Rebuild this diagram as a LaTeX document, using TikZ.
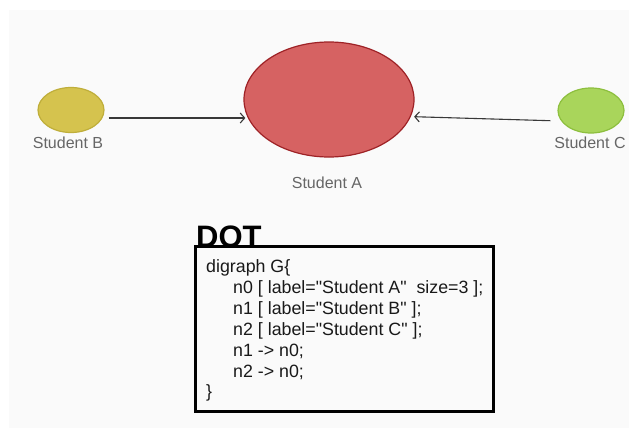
\documentclass[tikz,border=0pt]{standalone}
\usepackage{fontspec}
\setmainfont{Liberation Sans}
\newfontfamily\codefont{Liberation Sans}[Ligatures=ResetAll]
\usetikzlibrary{arrows.meta,shapes.geometric}
\definecolor{panel}{HTML}{FAFAFA}
\definecolor{labelgray}{HTML}{666666}
\definecolor{edgegray}{HTML}{383838}
\definecolor{afill}{HTML}{D66262}
\definecolor{aline}{HTML}{9E2226}
\definecolor{bfill}{HTML}{D5C34E}
\definecolor{bline}{HTML}{BFAE3A}
\definecolor{cfill}{HTML}{A9D55B}
\definecolor{cline}{HTML}{8DBF3E}
\tikzset{
  student/.style={ellipse, inner sep=0pt, line width=1.2pt},
  studlabel/.style={font=\fontsize{16}{18}\selectfont, text=labelgray, inner sep=0pt, anchor=base},
  edge/.style={draw=edgegray, line width=1.1pt, -{Straight Barb[length=4.5pt,width=10pt,line width=1.1pt]}},
  dotbox/.style={draw=black, line width=3pt},
  codeline/.style={font=\codefont\fontsize{17.8}{20}\selectfont, inner sep=0pt, anchor=base west, text=black!90}
}
\begin{document}
\begin{tikzpicture}[x=1pt,y=-1pt]
\useasboundingbox (0,0) rectangle (629,429);
\fill[white] (0,0) rectangle (629,429);
\fill[panel] (9,10) rectangle (629,428);
% nodes
\node[student, fill=afill, draw=aline, minimum width=170pt, minimum height=115pt] (A) at (329,99.5) {};
\node[student, fill=bfill, draw=bline, minimum width=66pt, minimum height=45pt] (B) at (71,110) {};
\node[student, fill=cfill, draw=cline, minimum width=66pt, minimum height=45pt] (C) at (591,110.5) {};
\node[studlabel] (la) at (327,188) {Student A};
\node[studlabel] (lb) at (68,148) {Student B};
\node[studlabel] (lc) at (590,148) {Student C};
% edges
\coordinate (bs) at ([shift={(4,8)}]B.east);
\coordinate (cs) at ([shift={(-7,10.2)}]C.west);
\draw[edge] (bs) -- ([shift={(2,18.5)}]A.west);
\draw[edge] (cs) -- ([shift={(-0.5,17.2)}]A.east);
% DOT box
\node[font=\bfseries\fontsize{31}{31}\selectfont, inner sep=0pt, anchor=base west] (dot) at (196,247) {DOT};
\draw[dotbox] (195.5,246.5) rectangle (493.5,411.5);
\node[codeline] (l1) at (206,272) {digraph G\{};
\node[codeline] (l2) at (233,293) {n0 [ label="Student A"\ \ size=3 ];};
\node[codeline] (l3) at (233,314) {n1 [ label="Student B" ];};
\node[codeline] (l4) at (233,335) {n2 [ label="Student C" ];};
\node[codeline] (l5) at (233,356) {n1 -> n0;};
\node[codeline] (l6) at (233,377) {n2 -> n0;};
\node[codeline] (l7) at (206,397) {\}};
\end{tikzpicture}
\end{document}
